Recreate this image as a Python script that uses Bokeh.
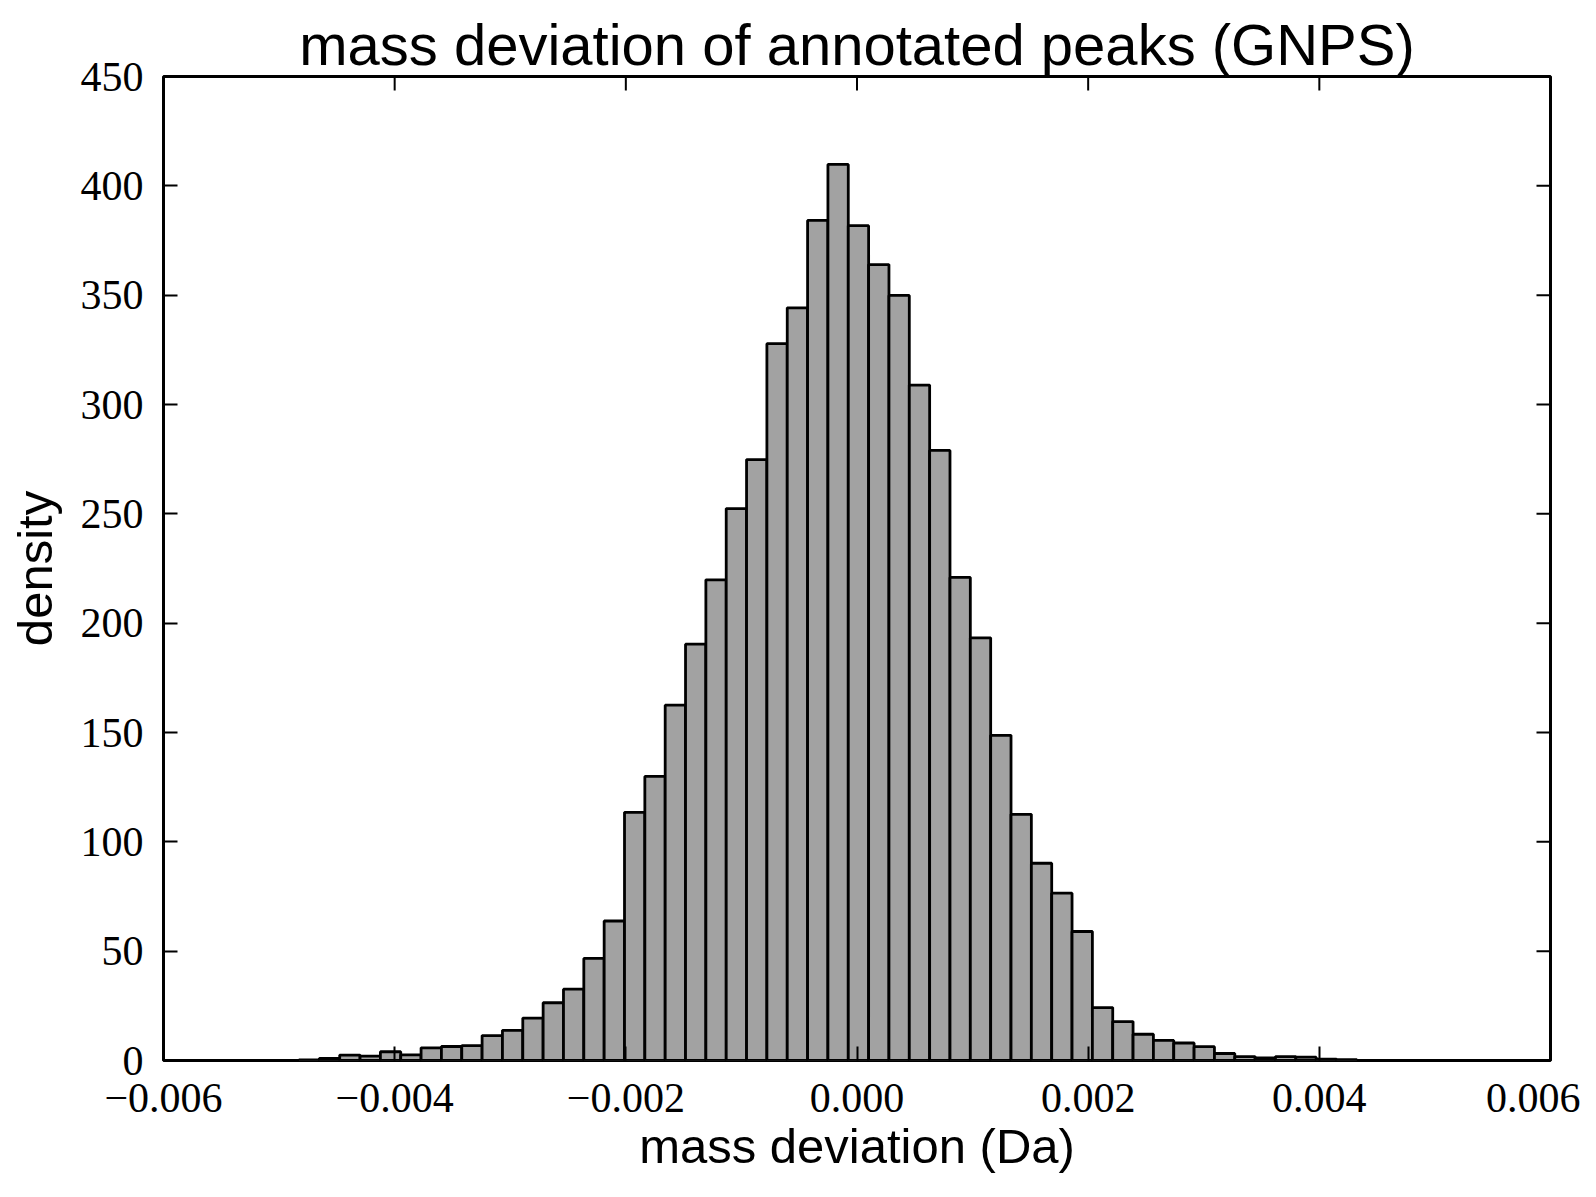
import numpy as np
from bokeh.plotting import figure
from bokeh.models import (ColumnDataSource, Range1d, LinearAxis, FixedTicker,
                          CustomJSTickFormatter)
from bokeh.embed import file_html
from bokeh.resources import INLINE

# ---- data ----
title_text = "mass deviation of annotated peaks (GNPS)"
x_label = "mass deviation (Da)"
y_label = "density"

bin_first_edge = -0.0048275   # left edge of first histogram bin (Da)
bin_width = 0.000176          # histogram bin width (Da)
density = [
    0.3, 1.0, 2.5, 2.0, 4.0, 2.6, 5.8, 6.4, 6.8, 11.4,
    13.8, 19.4, 26.4, 32.6, 46.7, 63.8, 113.5, 129.9, 162.5, 190.4,
    219.8, 252.4, 274.8, 327.8, 344.2, 384.2, 409.8, 381.8, 364.0, 349.9,
    308.9, 279.0, 220.9, 193.3, 148.7, 112.6, 90.2, 76.5, 59.0, 24.2,
    17.8, 12.0, 9.2, 8.0, 6.3, 3.2, 1.8, 1.2, 1.8, 1.5,
    0.6, 0.4,
]
x_ticks = [-0.006, -0.004, -0.002, 0.0, 0.002, 0.004, 0.006]
y_ticks = [0, 50, 100, 150, 200, 250, 300, 350, 400, 450]
x_limits = (-0.006, 0.006)
y_limits = (0, 450)

# ---- build ----
n = len(density)
lefts = bin_first_edge + bin_width * np.arange(n)
rights = lefts + bin_width
src = ColumnDataSource(dict(left=lefts, right=rights, top=density, bottom=[0] * n))

p = figure(frame_width=1387, frame_height=984,
           min_border_left=163, min_border_right=30,
           min_border_top=76, min_border_bottom=128,
           x_range=Range1d(*x_limits), y_range=Range1d(*y_limits),
           output_backend="svg", toolbar_location=None,
           x_axis_location=None, y_axis_location=None)

p.background_fill_color = "white"
p.border_fill_color = "white"
p.xgrid.visible = False
p.ygrid.visible = False
p.outline_line_color = "black"
p.outline_line_width = 3

p.quad(left="left", right="right", top="top", bottom="bottom", source=src,
       fill_color="#a2a2a2", line_color="black", line_width=2.8)

# inward tick marks on the top and right spines (half of each dash is clipped by the frame)
top_src = ColumnDataSource(dict(x=x_ticks, y=[y_limits[1]] * len(x_ticks)))
right_src = ColumnDataSource(dict(x=[x_limits[1]] * len(y_ticks), y=y_ticks))
p.scatter(x="x", y="y", source=top_src, marker="dash", angle=np.pi / 2, size=28,
          line_color="black", line_width=2)
p.scatter(x="x", y="y", source=right_src, marker="dash", size=28,
          line_color="black", line_width=2)

serif = "Liberation Serif"
sans = "Liberation Sans"

xfmt = CustomJSTickFormatter(code="""
    const s = Math.abs(tick).toFixed(3);
    return (tick < -1e-12 ? '\\u2212' : '') + s;
""")


def style_axis(ax):
    ax.axis_line_color = None
    ax.major_tick_in = 14
    ax.major_tick_out = 0
    ax.major_tick_line_width = 2
    ax.major_tick_line_color = "black"
    ax.minor_tick_line_color = None
    ax.major_label_text_font = serif
    ax.major_label_text_font_size = "42px"
    ax.major_label_text_color = "black"
    ax.axis_label_text_font = sans
    ax.axis_label_text_font_size = "49px"
    ax.axis_label_text_font_style = "normal"
    ax.axis_label_text_color = "black"


xb = LinearAxis(ticker=FixedTicker(ticks=x_ticks), formatter=xfmt, axis_label=x_label)
style_axis(xb)
xb.major_label_standoff = 23
xb.axis_label_standoff = 4
p.add_layout(xb, "below")

yl = LinearAxis(ticker=FixedTicker(ticks=y_ticks), axis_label=y_label)
style_axis(yl)
yl.major_label_standoff = 20
yl.axis_label_standoff = 16
p.add_layout(yl, "left")

p.title.text = title_text
p.title.align = "center"
p.title.text_font = sans
p.title.text_font_size = "58px"
p.title.text_font_style = "normal"
p.title.text_color = "black"
p.title.standoff = 0
p.title.offset = 8

open("out.html", "w").write(file_html(p, INLINE))
